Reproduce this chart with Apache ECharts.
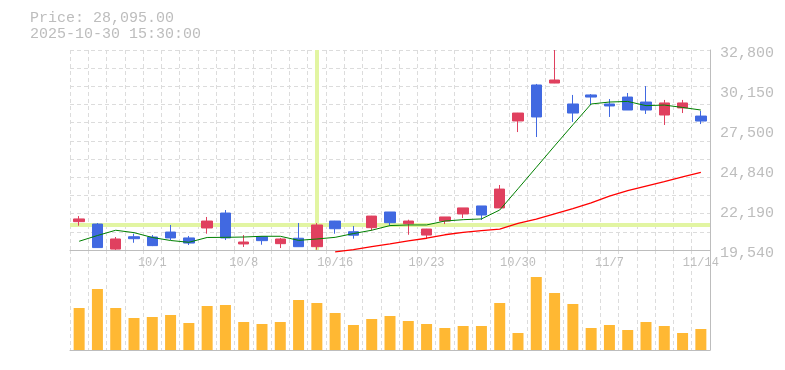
<!DOCTYPE html>
<html>
<head>
<meta charset="utf-8">
<script src="https://cdn.jsdelivr.net/npm/echarts@6/dist/echarts.min.js"></script>
<style>
  html, body { margin: 0; padding: 0; background: #ffffff; }
  #chart { width: 785px; height: 370px; }
</style>
</head>
<body>
<div id="chart"></div>
<script>
// ---- data ----
const dates = [
  '2025-09-25','2025-09-26','2025-09-29','2025-09-30','2025-10-01','2025-10-02','2025-10-03',
  '2025-10-06','2025-10-07','2025-10-08','2025-10-09','2025-10-10','2025-10-14','2025-10-15',
  '2025-10-16','2025-10-17','2025-10-20','2025-10-21','2025-10-22','2025-10-23','2025-10-24',
  '2025-10-27','2025-10-28','2025-10-29','2025-10-30','2025-10-31','2025-11-04','2025-11-05',
  '2025-11-06','2025-11-07','2025-11-10','2025-11-11','2025-11-12','2025-11-13','2025-11-14'
];
// [open, close, low, high]
const ohlc = [
  [21600, 21420, 21150, 21790],
  [19700, 21260, 19680, 21330],
  [20270, 19600, 19540, 20400],
  [20290, 20420, 20020, 20620],
  [19830, 20400, 19800, 20530],
  [20340, 20730, 20200, 21200],
  [20000, 20340, 19870, 20470],
  [21460, 21000, 20620, 21730],
  [20340, 21990, 20200, 22190],
  [20070, 19940, 19740, 20530],
  [20160, 20420, 19890, 20430],
  [20270, 19960, 19670, 20340],
  [19760, 20320, 19750, 21330],
  [21198, 19760, 19560, 21330],
  [20950, 21460, 20620, 21470],
  [20520, 20750, 20290, 21130],
  [21790, 21020, 20820, 21800],
  [21350, 22060, 21180, 22060],
  [21460, 21280, 20550, 21550],
  [20930, 20530, 20270, 20940],
  [21730, 21460, 21260, 21730],
  [22330, 21930, 21660, 22330],
  [21860, 22460, 21530, 22460],
  [23580, 22330, 22320, 23850],
  [28620, 28095, 27360, 28630],
  [28360, 30480, 27030, 30550],
  [30810, 30610, 30600, 32800],
  [28620, 29220, 28030, 29820],
  [29680, 29820, 29150, 29880],
  [29090, 29220, 28360, 29550],
  [28820, 29680, 28820, 29950],
  [28820, 29350, 28560, 30410],
  [29290, 28490, 27830, 29490],
  [29290, 28960, 28620, 29490],
  [28090, 28420, 27890, 28760]
];
const maShort = [
  20120, 20500, 20850, 20690, 20370, 20170, 20050, 20370, 20380, 20400, 20450, 20450,
  20180, 20270, 20380, 20630, 20850, 21160, 21200, 21200, 21460, 21550, 21600, 22190,
  23600, 25020, 26440, 27840, 29220, 29350, 29390, 29110, 29150, 28990, 28820
];
const maLong = [
  '-', '-', '-', '-', '-', '-', '-', '-', '-', '-', '-', '-', '-', '-',
  19410, 19570, 19770, 19940, 20140, 20320, 20550, 20710, 20830, 20930, 21300,
  21580, 21940, 22290, 22660, 23110, 23470, 23780, 24080, 24390, 24690
];
// volume (thousand shares)
const volumes = [
  42, 61, 42, 32, 33, 35, 27, 44, 45, 28, 26, 28, 50, 47, 37, 25, 31, 34,
  29, 26, 22, 24, 24, 47, 17, 73, 57, 46, 22, 25, 20, 28, 24, 17, 21
];
const priceMin = 19540;
const priceMax = 32800;
const priceTickLabels = ['19,540', '22,190', '24,840', '27,500', '30,150', '32,800'];
const volumeMax = 100;
const crossIndex = 13;
const titleLines = ['Price: 28,095.00', '2025-10-30 15:30:00'];

// ---- chart ----
const FONT = '"Liberation Mono", "DejaVu Sans Mono", monospace';
const GRAY = '#bdbdbd';
const GRID_LINE = { type: [4, 3], color: '#dcdcdc', width: 1 };

const chart = echarts.init(document.getElementById('chart'), null, { renderer: 'canvas' });

const option = {
  animation: false,
  backgroundColor: '#ffffff',
  title: {
    text: titleLines.join('\n'),
    left: 30,
    top: 10,
    padding: 0,
    textStyle: { fontFamily: FONT, fontSize: 15, color: GRAY, fontWeight: 'normal', lineHeight: 16 }
  },
  grid: [
    { left: 70, right: 75, top: 50, height: 200 },
    { left: 70, right: 75, top: 250, height: 100 },
    { left: 70, right: 75, top: 53.5, height: 200 }   // holds only the price labels
  ],
  xAxis: [
    {
      type: 'category', gridIndex: 0, data: dates, boundaryGap: true,
      axisLine: { show: true, lineStyle: { color: GRAY, width: 1 } },
      axisTick: { show: false },
      axisLabel: {
        interval: (i) => (i - 4) % 5 === 0,
        formatter: (v) => { const p = v.split('-'); return (+p[1]) + '/' + (+p[2]); },
        color: GRAY, fontFamily: FONT, fontSize: 12, margin: 7
      },
      splitLine: { show: true, interval: 0, lineStyle: GRID_LINE }
    },
    {
      type: 'category', gridIndex: 1, data: dates, boundaryGap: true,
      axisLine: { show: true, lineStyle: { color: GRAY, width: 1 } },
      axisTick: { show: false },
      axisLabel: { show: false },
      splitLine: { show: true, interval: 0, lineStyle: GRID_LINE }
    },
    {
      type: 'category', gridIndex: 2, data: dates, show: false
    }
  ],
  yAxis: [
    { // price scale
      type: 'value', gridIndex: 0, min: priceMin, max: priceMax, position: 'right',
      axisLine: { show: false }, axisTick: { show: false }, axisLabel: { show: false },
      splitLine: { show: false }
    },
    { // grid cells
      type: 'value', gridIndex: 0, min: 0, max: 11, interval: 1, position: 'right',
      axisLine: { show: true, lineStyle: { color: GRAY, width: 1 } },
      axisTick: { show: false }, axisLabel: { show: false },
      splitLine: { show: true, lineStyle: GRID_LINE }
    },
    { // price labels
      type: 'value', gridIndex: 2, min: 0, max: priceTickLabels.length - 1, interval: 1, position: 'right',
      axisLine: { show: false }, axisTick: { show: false },
      splitLine: { show: false },
      axisLabel: {
        formatter: (v) => priceTickLabels[v],
        color: GRAY, fontFamily: FONT, fontSize: 15, margin: 10
      }
    },
    { // volume
      type: 'value', gridIndex: 1, min: 0, max: volumeMax, position: 'right',
      axisLine: { show: true, lineStyle: { color: GRAY, width: 1 } },
      axisTick: { show: false }, axisLabel: { show: false },
      splitLine: { show: false }
    }
  ],
  series: [
    {
      name: 'cross', type: 'line', xAxisIndex: 0, yAxisIndex: 0, data: [], z: 1,
      silent: true,
      markLine: {
        z: 1,
        silent: true, symbol: 'none', animation: false,
        label: { show: false },
        lineStyle: { color: '#e2f5a2', width: 4, type: 'solid' },
        data: [
          { xAxis: crossIndex },
          { yAxis: ohlc[crossIndex][0] }
        ]
      }
    },
    {
      name: 'OHLC', type: 'candlestick', xAxisIndex: 0, yAxisIndex: 0, data: ohlc, z: 3,
      barWidth: 11,
      itemStyle: {
        color: '#4169e1', color0: '#e0405f',
        borderColor: '#4169e1', borderColor0: '#e0405f', borderWidth: 1
      }
    },
    {
      name: 'MA short', type: 'line', xAxisIndex: 0, yAxisIndex: 0, data: maShort, z: 4,
      symbol: 'none', showSymbol: false,
      lineStyle: { color: '#008000', width: 1 }
    },
    {
      name: 'MA long', type: 'line', xAxisIndex: 0, yAxisIndex: 0, data: maLong, z: 4,
      symbol: 'none', showSymbol: false, clip: false,
      lineStyle: { color: '#ff0000', width: 1.3 }
    },
    {
      name: 'Volume', type: 'bar', xAxisIndex: 1, yAxisIndex: 3, data: volumes,
      barWidth: 11,
      itemStyle: { color: '#ffb833' }
    }
  ]
};
chart.setOption(option);
</script>
</body>
</html>
